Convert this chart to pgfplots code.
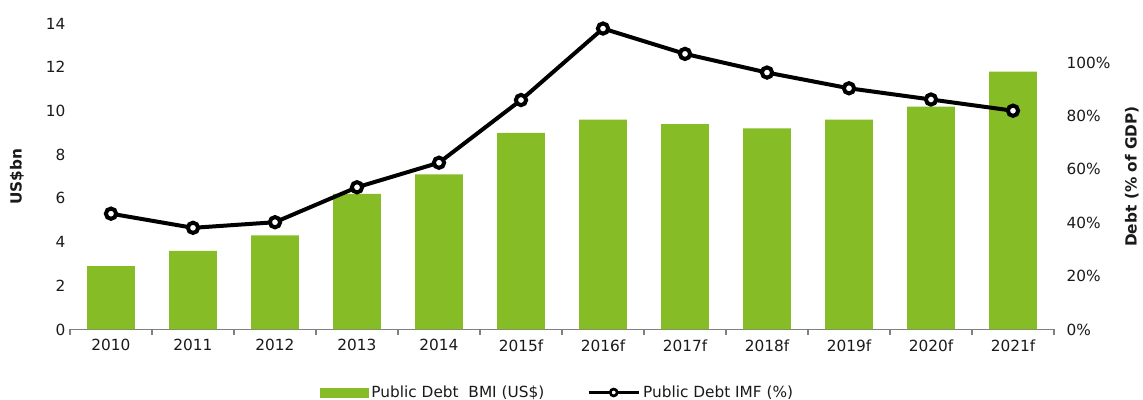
\documentclass[border=0pt]{standalone}
\usepackage{pgfplots}
\pgfplotsset{compat=1.18}
\usepackage{pgfplotstable}
\usepackage{fontspec}
\setmainfont{DejaVu Sans}
\definecolor{dgreen}{HTML}{86BC25}
\definecolor{axisgrey}{HTML}{808080}
\definecolor{txt}{HTML}{1A1A1A}

\pgfplotstableread{
idx bmi imf
0 2.9 0.434
1 3.6 0.381
2 4.3 0.402
3 6.2 0.533
4 7.1 0.625
5 9.0 0.860
6 9.6 1.128
7 9.4 1.033
8 9.2 0.963
9 9.6 0.904
10 10.2 0.862
11 11.8 0.820
}\debt

\pgfplotsset{
  common/.style={scale only axis, width=738pt, height=229.5pt,
    xmin=-0.5, xmax=11.5,
    font=\fontsize{11.5}{13.8}\selectfont,
    tick label style={text=txt}, label style={text=txt},
    major tick length=0pt},
}

\begin{document}
\begin{tikzpicture}
\begin{axis}[common,
  axis x line*=bottom, axis y line*=left,
  x axis line style={axisgrey, line width=0.9pt, -},
  y axis line style={draw=none},
  ymin=0, ymax=14, ytick={0,2,4,6,8,10,12,14},
  yticklabels={0,2,4,6,8,10,12,14},
  xtick={0,...,11},
  xticklabels={2010,2011,2012,2013,2014,2015f,2016f,2017f,2018f,2019f,2020f,2021f},
  xticklabel style={yshift=-4pt},
  extra x ticks={-0.5,0.5,1.5,2.5,3.5,4.5,5.5,6.5,7.5,8.5,9.5,10.5,11.5},
  extra x tick labels={},
  extra x tick style={major tick length=4pt, tick align=outside,
    tick style={draw=axisgrey, line width=0.9pt}},
  ylabel={\bfseries US\$bn},
  ylabel style={at={(axis description cs:-0.054,0.5)}, anchor=center},
]
\addplot[ybar, bar width=0.585, fill=dgreen, draw=none] table[x=idx,y=bmi]{\debt};
\end{axis}
\begin{axis}[common,
  axis y line*=right, axis x line=none,
  y axis line style={draw=none},
  ymin=0, ymax=1.147, ytick={0,0.2,0.4,0.6,0.8,1},
  yticklabels={0\%,20\%,40\%,60\%,80\%,100\%},
  yticklabel style={xshift=6pt},
  xtick=\empty, clip=false,
  ylabel={\bfseries Debt (\% of GDP)},
  ylabel style={at={(axis description cs:1.079,0.5)}, anchor=center},
  legend style={at={(axis description cs:0.496,-0.206)}, anchor=center,
    draw=none, fill=none, legend columns=2, text=txt,
    /tikz/every even column/.append style={column sep=30pt},
    font=\fontsize{11.5}{13.8}\selectfont},
]
\addlegendimage{legend image code/.code={\fill[dgreen] (0pt,-3.4pt) rectangle (36pt,3.4pt);}}
\addlegendentry{Public Debt~ BMI (US\$)}
\addplot[black, line width=3pt, mark=*, mark size=3.85pt,
  mark options={fill=white, draw=black, line width=3pt},
  legend image code/.code={\draw[black, line width=2.6pt] (0pt,0pt) -- (37.5pt,0pt);
    \draw[black, line width=2pt, fill=white] (18.75pt,0pt) circle (2.6pt);}]
  table[x=idx,y=imf]{\debt};
\addlegendentry{Public Debt IMF (\%)}
\end{axis}
\pgfresetboundingbox
\useasboundingbox (-52.5pt,-52.9pt) rectangle (804.75pt,247.1pt);
\end{tikzpicture}
\end{document}
